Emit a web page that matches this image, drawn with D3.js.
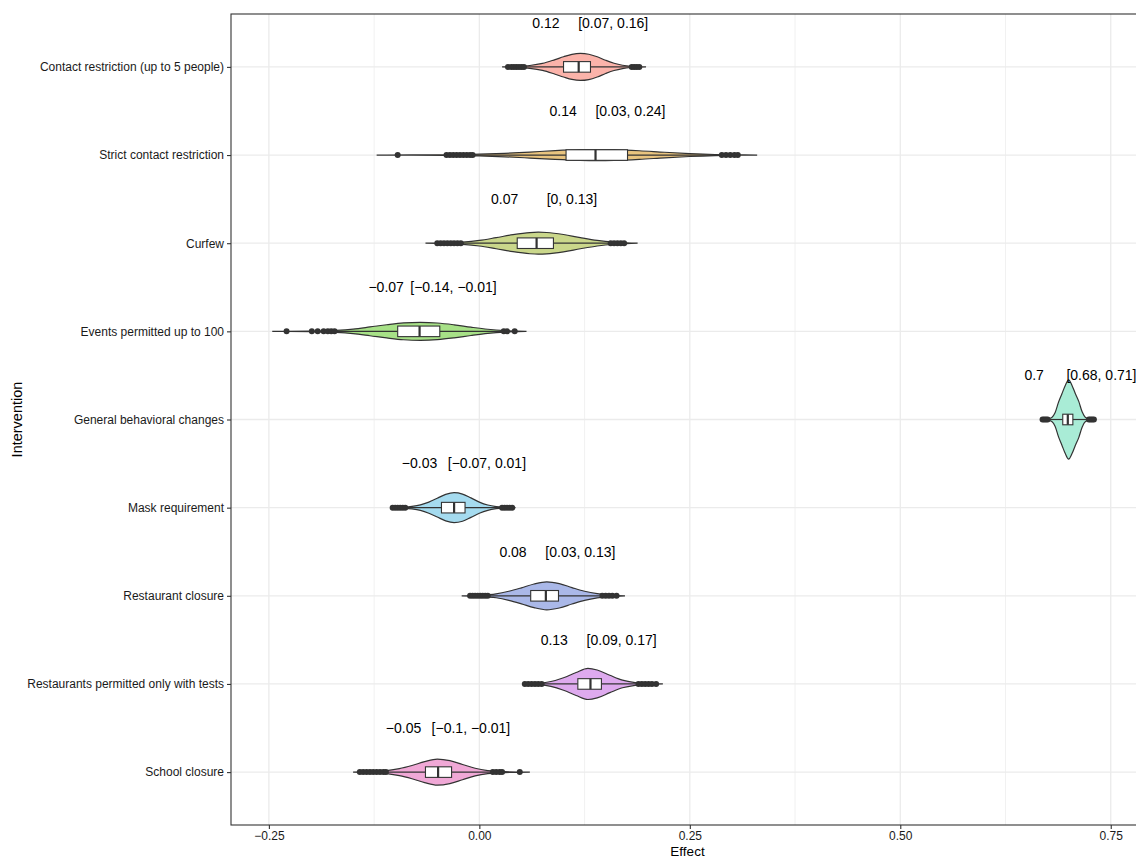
<!DOCTYPE html>
<html lang="en">
  <head>
    <meta charset="utf-8" />
    <script src="https://d3js.org/d3.v7.min.js"></script>
    <style>
      body { margin: 0; background: white; }
      text { font-family: "Liberation Sans", Arial, sans-serif; }
    </style>
  </head>
  <body>
    <script type="text/javascript">

      // interventions, top to bottom
      var interventions = [
        "Contact restriction (up to 5 people)",
        "Strict contact restriction",
        "Curfew",
        "Events permitted up to 100",
        "General behavioral changes",
        "Mask requirement",
        "Restaurant closure",
        "Restaurants permitted only with tests",
        "School closure"
      ];

      // posterior means and the printed labels
      var means = [0.119, 0.1395, 0.070, -0.0707, 0.699, -0.031, 0.080, 0.129, -0.050];
      var meanLabels = ["0.12", "0.14", "0.07", "\u22120.07", "0.7", "\u22120.03", "0.08", "0.13", "\u22120.05"];
      var intervalLabels = [
        "[0.07, 0.16]", "[0.03, 0.24]", "[0, 0.13]", "[\u22120.14, \u22120.01]",
        "[0.68, 0.71]", "[\u22120.07, 0.01]", "[0.03, 0.13]", "[0.09, 0.17]",
        "[\u22120.1, \u22120.01]"
      ];

      // boxplot statistics
      var q1 = [0.100, 0.103, 0.045, -0.097, 0.693, -0.045, 0.061, 0.117, -0.064];
      var medians = [0.118, 0.138, 0.068, -0.071, 0.699, -0.030, 0.079, 0.132, -0.049];
      var q3 = [0.132, 0.176, 0.088, -0.047, 0.705, -0.017, 0.094, 0.145, -0.033];
      var whiskerLow = [0.055, -0.006, -0.020, -0.170, 0.676, -0.086, 0.012, 0.076, -0.109];
      var whiskerHigh = [0.180, 0.286, 0.154, 0.028, 0.722, 0.025, 0.143, 0.186, 0.014];

      // outlying draws
      var outliers = [
        [0.034, 0.038, 0.041, 0.044, 0.047, 0.050, 0.053, 0.181, 0.184, 0.187, 0.190],
        [-0.097, -0.039, -0.035, -0.031, -0.027, -0.023, -0.019, -0.015, -0.011, -0.008, 0.288, 0.293, 0.298, 0.303, 0.307],
        [-0.050, -0.046, -0.042, -0.038, -0.034, -0.030, -0.026, -0.022, 0.156, 0.160, 0.164, 0.168, 0.172],
        [-0.229, -0.199, -0.192, -0.185, -0.180, -0.176, -0.172, 0.029, 0.033, 0.042],
        [0.669, 0.671, 0.673, 0.675, 0.724, 0.726, 0.728, 0.730],
        [-0.103, -0.100, -0.097, -0.094, -0.091, -0.088, 0.027, 0.030, 0.033, 0.036, 0.039],
        [-0.011, -0.008, -0.005, -0.002, 0.001, 0.004, 0.007, 0.010, 0.146, 0.150, 0.154, 0.158, 0.163],
        [0.054, 0.058, 0.062, 0.066, 0.070, 0.074, 0.189, 0.193, 0.197, 0.201, 0.205, 0.210],
        [-0.142, -0.138, -0.134, -0.130, -0.126, -0.122, -0.118, -0.114, -0.111, 0.016, 0.020, 0.024, 0.027, 0.048]
      ];

      // density profiles: [effect, density]
      var densities = [
        [[0.027, 0], [0.045, 0.6], [0.06, 2.0], [0.075, 5.0], [0.09, 10.5], [0.10, 14.5], [0.11, 18.0], [0.12, 19.4],
         [0.13, 18.2], [0.14, 14.5], [0.15, 9.5], [0.16, 5.2], [0.17, 2.4], [0.18, 0.9], [0.198, 0]],
        [[-0.122, 0], [-0.08, 0.1], [-0.04, 0.4], [0.0, 1.2], [0.03, 2.5], [0.06, 4.3], [0.09, 6.3], [0.12, 7.7],
         [0.14, 8.0], [0.16, 7.7], [0.19, 6.2], [0.22, 4.0], [0.25, 2.1], [0.28, 0.8], [0.31, 0.2], [0.33, 0]],
        [[-0.064, 0], [-0.04, 0.5], [-0.02, 1.6], [0.0, 4.0], [0.02, 8.0], [0.04, 12.2], [0.06, 15.2], [0.07, 15.8],
         [0.08, 15.4], [0.10, 12.5], [0.12, 8.0], [0.14, 4.0], [0.16, 1.5], [0.175, 0.5], [0.188, 0]],
        [[-0.246, 0], [-0.20, 0.4], [-0.17, 1.5], [-0.15, 3.3], [-0.13, 6.3], [-0.11, 9.5], [-0.09, 12.1], [-0.07, 12.9],
         [-0.05, 12.0], [-0.03, 9.4], [-0.01, 6.0], [0.01, 3.0], [0.03, 1.1], [0.045, 0.4], [0.056, 0]],
        [[0.669, 0], [0.675, 0.8], [0.680, 3], [0.684, 10], [0.688, 25], [0.692, 37], [0.696, 49], [0.700, 57],
         [0.704, 49], [0.708, 37], [0.712, 26], [0.716, 11], [0.720, 3], [0.725, 0.8], [0.731, 0]],
        [[-0.104, 0], [-0.09, 0.6], [-0.08, 1.8], [-0.07, 4.0], [-0.06, 8.0], [-0.05, 13.5], [-0.04, 19.0], [-0.03, 21.5],
         [-0.02, 19.5], [-0.01, 14.0], [0.0, 8.0], [0.01, 3.8], [0.02, 1.5], [0.03, 0.5], [0.043, 0]],
        [[-0.021, 0], [0.0, 0.7], [0.02, 2.8], [0.035, 6.5], [0.05, 11.5], [0.065, 17], [0.08, 20.1], [0.095, 17.5],
         [0.11, 11.8], [0.125, 6.5], [0.14, 3.0], [0.155, 1.0], [0.173, 0]],
        [[0.052, 0], [0.07, 1.0], [0.085, 3.5], [0.10, 9.0], [0.115, 16.5], [0.129, 22.3], [0.14, 20.0], [0.155, 12.5],
         [0.17, 5.5], [0.185, 2.0], [0.20, 0.6], [0.218, 0]],
        [[-0.150, 0], [-0.13, 0.6], [-0.11, 2.2], [-0.095, 5.0], [-0.08, 9.5], [-0.065, 15.0], [-0.05, 18.7], [-0.035, 16.5],
         [-0.02, 11.0], [-0.005, 5.5], [0.01, 2.2], [0.03, 0.6], [0.06, 0]]
      ];

      // fill colours per intervention
      var colors = ["#fbb3aa", "#e9c47f", "#cad78b", "#a7e187", "#a9ecd6",
                    "#a5dbef", "#aab8e8", "#deaaee", "#f0a8d6"];

      // axis ticks
      var xTicks = [-0.25, 0, 0.25, 0.5, 0.75];
      var xMinorTicks = [-0.125, 0.125, 0.375, 0.625];

      // variables svg
      var w = 1136;
      var h = 858;
      var leftChart = 231;
      var rightChart = 1136;
      var topChart = 14;
      var bottomChart = 825;

      var svg = d3.select("body")
                  .append("svg")
                  .attr("width", w)
                  .attr("height", h);

      // scales
      var xScale = d3.scaleLinear()
                     .domain([-0.295, 0.78])
                     .range([leftChart, rightChart]);
      var yScale = d3.scalePoint()
                     .domain(interventions)
                     .range([topChart, bottomChart])
                     .padding(0.6);
      var step = yScale.step();
      var maxDensity = d3.max(densities, function(d) { return d3.max(d, function(p) { return p[1]; }); });
      var widthScale = d3.scaleLinear()
                         .domain([0, maxDensity])
                         .range([0, 0.45 * step]);

      // clip for the panel
      svg.append("clipPath")
         .attr("id", "panelClip")
         .append("rect")
         .attr("x", leftChart)
         .attr("y", topChart)
         .attr("width", rightChart - leftChart)
         .attr("height", bottomChart - topChart);

      // grid lines
      var grid = svg.append("g");
      grid.selectAll(".minor")
          .data(xMinorTicks)
          .enter()
          .append("line")
          .attr("x1", function(d) { return xScale(d); })
          .attr("x2", function(d) { return xScale(d); })
          .attr("y1", topChart)
          .attr("y2", bottomChart)
          .attr("stroke", "#ebebeb")
          .attr("stroke-width", 0.7);
      grid.selectAll(".majorx")
          .data(xTicks)
          .enter()
          .append("line")
          .attr("x1", function(d) { return xScale(d); })
          .attr("x2", function(d) { return xScale(d); })
          .attr("y1", topChart)
          .attr("y2", bottomChart)
          .attr("stroke", "#ebebeb")
          .attr("stroke-width", 1.3);
      grid.selectAll(".majory")
          .data(interventions)
          .enter()
          .append("line")
          .attr("x1", leftChart)
          .attr("x2", rightChart)
          .attr("y1", function(d) { return yScale(d); })
          .attr("y2", function(d) { return yScale(d); })
          .attr("stroke", "#ebebeb")
          .attr("stroke-width", 1.3);

      var panel = svg.append("g").attr("clip-path", "url(#panelClip)");

      // violins
      interventions.forEach(function(name, i) {
        var yc = yScale(name);
        var area = d3.area()
                     .x(function(d) { return xScale(d[0]); })
                     .y0(function(d) { return yc - widthScale(d[1]); })
                     .y1(function(d) { return yc + widthScale(d[1]); })
                     .curve(d3.curveMonotoneX);
        panel.append("path")
             .datum(densities[i])
             .attr("d", area)
             .attr("fill", colors[i])
             .attr("stroke", "#333333")
             .attr("stroke-width", 1.2);
      });

      // boxplots
      var boxHalf = 0.06 * step;
      interventions.forEach(function(name, i) {
        var yc = yScale(name);
        var g = panel.append("g");
        g.append("line")
         .attr("x1", xScale(whiskerLow[i]))
         .attr("x2", xScale(q1[i]))
         .attr("y1", yc).attr("y2", yc)
         .attr("stroke", "#333333")
         .attr("stroke-width", 1.2);
        g.append("line")
         .attr("x1", xScale(q3[i]))
         .attr("x2", xScale(whiskerHigh[i]))
         .attr("y1", yc).attr("y2", yc)
         .attr("stroke", "#333333")
         .attr("stroke-width", 1.2);
        g.append("rect")
         .attr("x", xScale(q1[i]))
         .attr("y", yc - boxHalf)
         .attr("width", xScale(q3[i]) - xScale(q1[i]))
         .attr("height", 2 * boxHalf)
         .attr("fill", "white")
         .attr("stroke", "#333333")
         .attr("stroke-width", 1.1);
        g.append("line")
         .attr("x1", xScale(medians[i]))
         .attr("x2", xScale(medians[i]))
         .attr("y1", yc - boxHalf)
         .attr("y2", yc + boxHalf)
         .attr("stroke", "#333333")
         .attr("stroke-width", 2.2);
        g.selectAll("circle")
         .data(outliers[i])
         .enter()
         .append("circle")
         .attr("cx", function(d) { return xScale(d); })
         .attr("cy", yc)
         .attr("r", 3)
         .attr("fill", "#333333");
      });

      // mean and interval labels
      var labelShift = 0.04;
      interventions.forEach(function(name, i) {
        var yb = yScale(name) - 0.445 * step;
        panel.append("text")
             .attr("x", xScale(means[i] - labelShift))
             .attr("y", yb)
             .attr("text-anchor", "middle")
             .style("font-size", "14px")
             .attr("fill", "black")
             .text(meanLabels[i]);
        panel.append("text")
             .attr("x", xScale(means[i] + labelShift))
             .attr("y", yb)
             .attr("text-anchor", "middle")
             .style("font-size", "14px")
             .attr("fill", "black")
             .text(intervalLabels[i]);
      });

      // panel border
      svg.append("rect")
         .attr("x", leftChart)
         .attr("y", topChart)
         .attr("width", rightChart - leftChart + 2)
         .attr("height", bottomChart - topChart)
         .attr("fill", "none")
         .attr("stroke", "#333333")
         .attr("stroke-width", 1.1);

      // axes
      var xAxis = d3.axisBottom(xScale)
                    .tickValues(xTicks)
                    .tickFormat(d3.format(".2f"))
                    .tickSize(4)
                    .tickPadding(2);
      var gx = svg.append("g")
                  .attr("transform", "translate(0," + bottomChart + ")")
                  .call(xAxis);
      gx.select(".domain").remove();

      var yAxis = d3.axisLeft(yScale)
                    .tickSize(4)
                    .tickPadding(3);
      var gy = svg.append("g")
                  .attr("transform", "translate(" + leftChart + ",0)")
                  .call(yAxis);
      gy.select(".domain").remove();

      [gx, gy].forEach(function(g) {
        g.selectAll(".tick line").attr("stroke", "#333333").attr("stroke-width", 1.1);
        g.selectAll(".tick text")
         .attr("fill", "#1a1a1a")
         .style("font-size", "12px")
         .style("font-family", "Liberation Sans, Arial, sans-serif");
      });

      // axis titles
      svg.append("text")
         .attr("x", (leftChart + rightChart) / 2 + 4)
         .attr("y", 855.5)
         .attr("text-anchor", "middle")
         .style("font-size", "13.5px")
         .text("Effect");
      svg.append("text")
         .attr("transform", "rotate(-90)")
         .attr("x", -(topChart + bottomChart) / 2)
         .attr("y", 22)
         .attr("text-anchor", "middle")
         .style("font-size", "14.5px")
         .text("Intervention");

    </script>
  </body>
</html>
